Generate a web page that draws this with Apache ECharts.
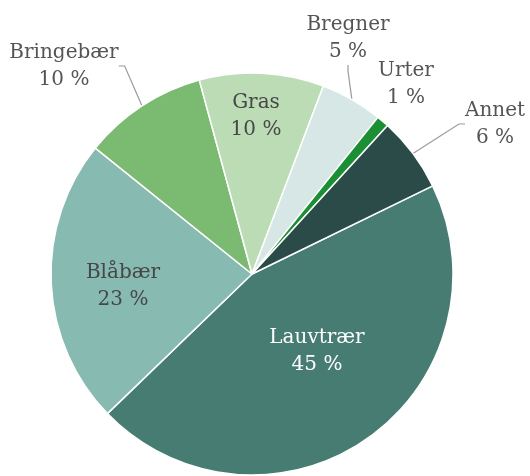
<!DOCTYPE html>
<html>
<head>
<meta charset="utf-8">
<script src="https://cdn.jsdelivr.net/npm/echarts@6/dist/echarts.min.js"></script>
<style>
  html, body { margin: 0; padding: 0; background: #fff; }
  #chart { width: 530px; height: 476px; }
</style>
</head>
<body>
<div id="chart"></div>
<script>
// data, clockwise from the Annet/Lauvtrær boundary
const categories = ["Lauvtrær", "Blåbær", "Bringebær", "Gras", "Bregner", "Urter", "Annet"];
const shares = [45, 23, 10, 10, 5, 1, 6];
const colors = ["#477c73", "#87bab1", "#7bba71", "#bbdcb5", "#d6e7e5", "#1b8f33", "#2a4b47"];

// labels drawn inside the slice, the rest go outside with a guide line
const insideLabels = ["Lauvtrær", "Blåbær", "Gras"];
const noLine = ["Urter"];

// where each label block sits (pixel centre)
const labelPos = {
  "Lauvtrær": [317, 351],
  "Blåbær": [123, 286],
  "Bringebær": [64, 66],
  "Gras": [256, 116],
  "Bregner": [348, 38],
  "Urter": [406, 84],
  "Annet": [495, 124]
};

const chart = echarts.init(document.getElementById("chart"));

const pieData = categories.map((name, i) => {
  const inside = insideLabels.includes(name);
  return {
    name: name,
    value: shares[i],
    itemStyle: { color: colors[i] },
    label: {
      position: inside ? "inside" : "outside",
      color: name === "Lauvtrær" ? "#ffffff" : (inside ? "#474747" : "#555555")
    },
    labelLine: { show: !inside && !noLine.includes(name) }
  };
});

const option = {
  animation: false,
  series: [
    {
      type: "pie",
      center: [252, 274],
      radius: 201,
      startAngle: 26,
      clockwise: true,
      avoidLabelOverlap: false,
      itemStyle: {
        borderColor: "#ffffff",
        borderWidth: 1.5
      },
      label: {
        fontFamily: "DejaVu Serif",
        fontSize: 20,
        lineHeight: 27,
        formatter: p => p.name + "\n" + p.value + " %"
      },
      labelLine: {
        length: 10,
        length2: 6,
        lineStyle: { color: "#9a9a9a", width: 1.2 }
      },
      labelLayout: params => {
        const pos = labelPos[categories[params.dataIndex]];
        return { x: pos[0], y: pos[1], align: "center", verticalAlign: "middle" };
      },
      data: pieData
    }
  ]
};

chart.setOption(option);
</script>
</body>
</html>
